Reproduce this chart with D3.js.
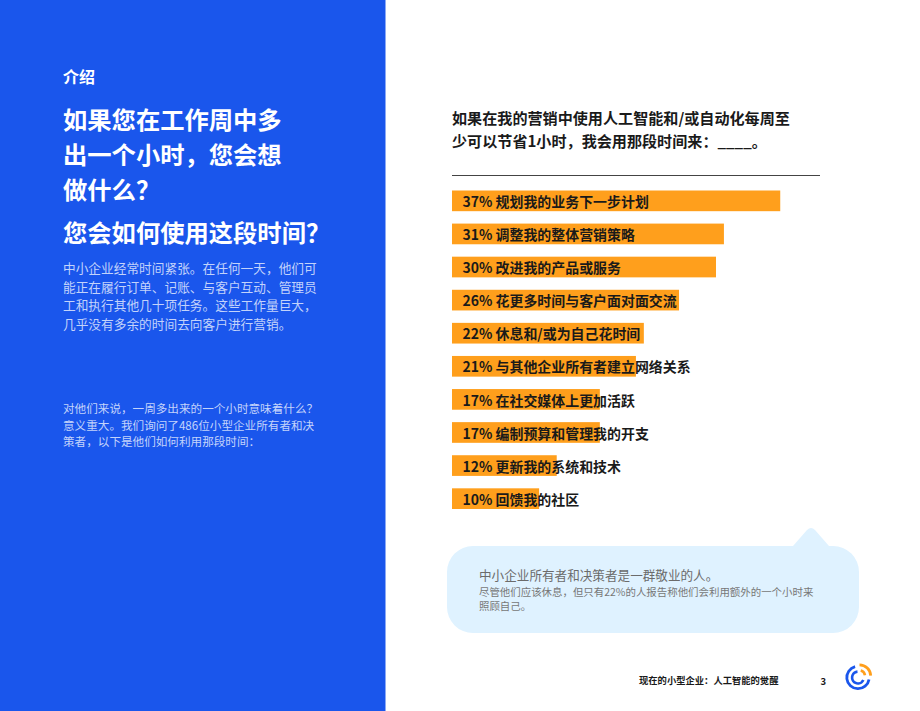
<!DOCTYPE html>
<html>
<head>
<meta charset="utf-8">
<script src="https://cdn.jsdelivr.net/npm/d3@7"></script>
<style>
  html, body { margin: 0; padding: 0; background: #fff; overflow: hidden; }
  text { font-family: "Noto Sans CJK SC", "Noto Sans", sans-serif; }
</style>
</head>
<body>
<div id="chart"></div>
<script>
// the chart values
const pcts = [37, 31, 30, 26, 22, 21, 17, 17, 12, 10]
const barLengths = [37.3, 30.9, 30, 25.8, 21.8, 20.9, 16.8, 16.8, 11.9, 9.9]
const answers = [
  '规划我的业务下一步计划',
  '调整我的整体营销策略',
  '改进我的产品或服务',
  '花更多时间与客户面对面交流',
  '休息和/或为自己花时间',
  '与其他企业所有者建立网络关系',
  '在社交媒体上更加活跃',
  '编制预算和管理我的开支',
  '更新我的系统和技术',
  '回馈我的社区'
]

const sectionLabel = ['介绍']
const headingLines = ['如果您在工作周中多', '出一个小时，您会想', '做什么？']
const headingLines2 = ['您会如何使用这段时间？']
const introLines = [
  '中小企业经常时间紧张。在任何一天，他们可',
  '能正在履行订单、记账、与客户互动、管理员',
  '工和执行其他几十项任务。这些工作量巨大，',
  '几乎没有多余的时间去向客户进行营销。'
]
const introLines2 = [
  '对他们来说，一周多出来的一个小时意味着什么？',
  '意义重大。我们询问了486位小型企业所有者和决',
  '策者，以下是他们如何利用那段时间：'
]
const titleLines = [
  '如果在我的营销中使用人工智能和/或自动化每周至',
  '少可以节省1小时，我会用那段时间来：____。'
]
const calloutHead = ['中小企业所有者和决策者是一群敬业的人。']
const calloutLines = [
  '尽管他们应该休息，但只有22%的人报告称他们会利用额外的一个小时来',
  '照顾自己。'
]
const footerText = ['现在的小型企业：人工智能的觉醒']
const pageNumber = ['3']

const width = 920
const height = 711
const blue = '#1a56ec'
const orange = '#ff9f1c'

const svg = d3.select('#chart')
  .append('svg')
  .attr('width', width)
  .attr('height', height)
  .style('display', 'block')

svg.append('rect')
  .attr('width', 385.5)
  .attr('height', height)
  .attr('fill', blue)

// draws a block of lines, first baseline at y
function textBlock(lines, x, y, lineH, size, weight, color) {
  svg.append('g')
    .selectAll('text')
    .data(lines)
    .enter()
    .append('text')
    .attr('x', x)
    .attr('y', (d, i) => y + i * lineH)
    .attr('font-size', size)
    .attr('font-weight', weight)
    .attr('fill', color)
    .text(d => d)
}

// left panel
textBlock(sectionLabel, 63, 83, 0, 16, 700, '#fff')
textBlock(headingLines, 63, 128.5, 35, 24.3, 700, '#fff')
textBlock(headingLines2, 63, 241.5, 0, 24.3, 700, '#fff')
textBlock(introLines, 63, 273, 18.6, 12.7, 400, '#c3d3fb')
textBlock(introLines2, 63, 413, 16.6, 11.6, 400, '#c3d3fb')

// question above the bars
textBlock(titleLines, 452, 123.5, 23, 15.1, 700, '#1a1a1a')

svg.append('line')
  .attr('x1', 452)
  .attr('x2', 820)
  .attr('y1', 175.5)
  .attr('y2', 175.5)
  .attr('stroke', '#444')
  .attr('stroke-width', 1)

// bars
const x = d3.scaleLinear().domain([0, 10]).range([0, 88])
const y = d3.scaleBand()
  .domain(d3.range(pcts.length))
  .range([190.5, 509])
  .paddingInner(0.375)
  .paddingOuter(0)

const rows = svg.append('g')
  .selectAll('g')
  .data(d3.range(pcts.length))
  .enter()
  .append('g')
  .attr('transform', i => 'translate(452,' + y(i) + ')')

rows.append('rect')
  .attr('width', i => x(barLengths[i]))
  .attr('height', y.bandwidth())
  .attr('fill', orange)

rows.append('text')
  .attr('x', 10.5)
  .attr('y', y.bandwidth() / 2 + 6.2)
  .attr('font-size', 13.95)
  .attr('font-weight', 700)
  .attr('fill', '#1a1a1a')
  .text(i => pcts[i] + '% ' + answers[i])

// callout bubble with the little pointer on top
const bubble = d3.path()
const bx0 = 447, bx1 = 859, by0 = 546, by1 = 633, br = 26
bubble.moveTo(bx0 + br, by0)
bubble.lineTo(793, by0)
bubble.lineTo(807, 530)
bubble.quadraticCurveTo(811, 526, 815, 530)
bubble.lineTo(829, by0)
bubble.lineTo(bx1 - br, by0)
bubble.arcTo(bx1, by0, bx1, by0 + br, br)
bubble.lineTo(bx1, by1 - br)
bubble.arcTo(bx1, by1, bx1 - br, by1, br)
bubble.lineTo(bx0 + br, by1)
bubble.arcTo(bx0, by1, bx0, by1 - br, br)
bubble.lineTo(bx0, by0 + br)
bubble.arcTo(bx0, by0, bx0 + br, by0, br)
bubble.closePath()

svg.append('path')
  .attr('d', bubble.toString())
  .attr('fill', '#dff2ff')

textBlock(calloutHead, 479, 580, 0, 12.6, 400, '#6b6b6b')
textBlock(calloutLines, 479, 596, 13.8, 10.45, 400, '#777')

// footer
textBlock(footerText, 639, 684, 0, 9.3, 700, '#1a1a1a')
textBlock(pageNumber, 820.5, 684.5, 0, 9.5, 700, '#1a1a1a')

// logo, blue rings with orange arcs pushed out to the top right
const logo = svg.append('g').attr('transform', 'translate(858,677.5)')
const arc = d3.arc()
const deg = Math.PI / 180
logo.append('path')
  .attr('d', arc({ innerRadius: 9.8, outerRadius: 12.6, startAngle: 100 * deg, endAngle: 345 * deg }))
  .attr('fill', blue)
logo.append('path')
  .attr('transform', 'translate(1.5,-1.5)')
  .attr('d', arc({ innerRadius: 9.8, outerRadius: 12.6, startAngle: 0 * deg, endAngle: 88 * deg }))
  .attr('fill', orange)
logo.append('path')
  .attr('d', arc({ innerRadius: 4.6, outerRadius: 7.2, startAngle: 115 * deg, endAngle: 355 * deg }))
  .attr('fill', blue)
logo.append('path')
  .attr('transform', 'translate(1.2,-1.2)')
  .attr('d', arc({ innerRadius: 4.6, outerRadius: 7.2, startAngle: 15 * deg, endAngle: 80 * deg }))
  .attr('fill', orange)
</script>
</body>
</html>
